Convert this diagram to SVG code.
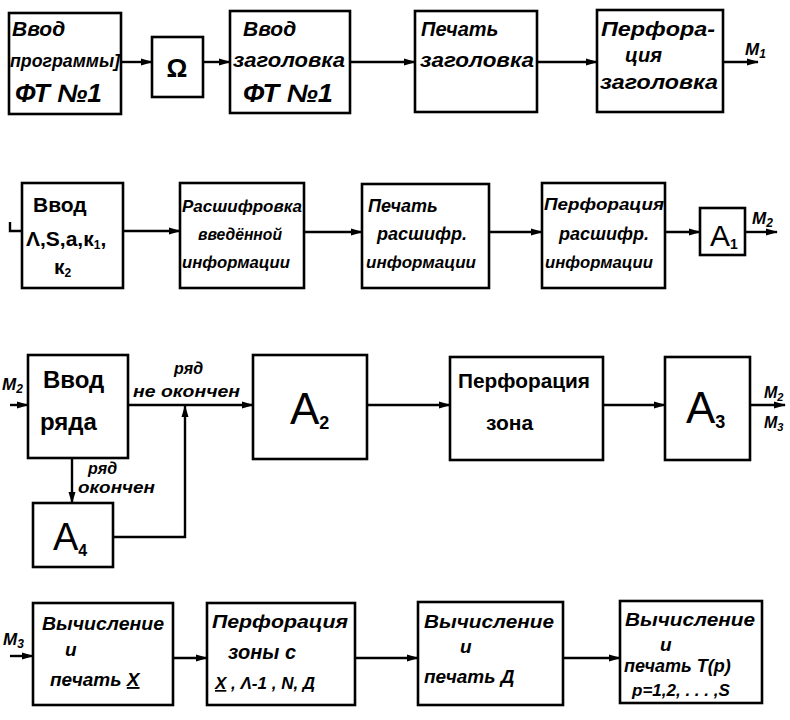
<svg xmlns="http://www.w3.org/2000/svg" width="790" height="720" viewBox="0 0 790 720">
<defs>
<marker id="ar" markerWidth="12" markerHeight="8" refX="11" refY="4" orient="auto" markerUnits="userSpaceOnUse">
<path d="M0,0.5 L12,4 L0,7.5 Z" fill="#000"/>
</marker>
<style>
.b{fill:#fff;stroke:#000;stroke-width:2.6}
.c{fill:none;stroke:#000;stroke-width:2.4}
.t{font-family:"Liberation Sans","DejaVu Sans",sans-serif;fill:#000}
.m{text-anchor:middle}
</style>
</defs>
<rect width="790" height="720" fill="#fff"/>
<g font-style="italic" font-weight="bold" font-size="17">

<g id="connectors">
<line class="c" x1="121" y1="62" x2="152" y2="62" marker-end="url(#ar)"/>
<line class="c" x1="203" y1="62" x2="230" y2="62" marker-end="url(#ar)"/>
<line class="c" x1="350" y1="62" x2="415" y2="62" marker-end="url(#ar)"/>
<line class="c" x1="537" y1="62" x2="597" y2="62" marker-end="url(#ar)"/>
<line class="c" x1="723" y1="62" x2="758" y2="62" marker-end="url(#ar)"/>

<polyline class="c" points="10,222 10,231 22,231"/>
<line class="c" x1="123" y1="231" x2="180" y2="231" marker-end="url(#ar)"/>
<line class="c" x1="304" y1="232" x2="362" y2="232" marker-end="url(#ar)"/>
<line class="c" x1="489" y1="232" x2="542" y2="232" marker-end="url(#ar)"/>
<line class="c" x1="665" y1="232" x2="700" y2="232" marker-end="url(#ar)"/>
<line class="c" x1="745" y1="232" x2="777" y2="232" marker-end="url(#ar)"/>

<line class="c" x1="10" y1="405" x2="28" y2="405" marker-end="url(#ar)"/>
<line class="c" x1="128" y1="405" x2="253" y2="405" marker-end="url(#ar)"/>
<line class="c" x1="72" y1="458" x2="72" y2="503" marker-end="url(#ar)"/>
<polyline class="c" points="113,537 185,537 185,406" marker-end="url(#ar)"/>
<line class="c" x1="367" y1="405" x2="450" y2="405" marker-end="url(#ar)"/>
<line class="c" x1="603" y1="405" x2="665" y2="405" marker-end="url(#ar)"/>
<line class="c" x1="750" y1="405" x2="785" y2="405" marker-end="url(#ar)"/>

<line class="c" x1="10" y1="656" x2="33" y2="656" marker-end="url(#ar)"/>
<line class="c" x1="173" y1="658" x2="207" y2="658" marker-end="url(#ar)"/>
<line class="c" x1="355" y1="658" x2="418" y2="658" marker-end="url(#ar)"/>
<line class="c" x1="563" y1="658" x2="620" y2="658" marker-end="url(#ar)"/>
</g>

<g id="connector-labels">
<text class="t" x="745" y="55">M<tspan font-size="12" dy="3">1</tspan></text>
<text class="t" x="752" y="224">M<tspan font-size="12" dy="3">2</tspan></text>
<text class="t" x="2" y="390">M<tspan font-size="12" dy="3">2</tspan></text>
<text class="t" x="174" y="374" font-size="16">ряд</text>
<text class="t" x="133" y="397" font-size="17" textLength="107" lengthAdjust="spacingAndGlyphs">не окончен</text>
<text class="t" x="88" y="474" font-size="16">ряд</text>
<text class="t" x="78" y="493" font-size="17" textLength="77" lengthAdjust="spacingAndGlyphs">окончен</text>
<text class="t" x="764" y="398" font-size="16">M<tspan font-size="11" dy="3">2</tspan></text>
<text class="t" x="764" y="428" font-size="16">M<tspan font-size="11" dy="3">3</tspan></text>
<text class="t" x="3" y="645">M<tspan font-size="12" dy="3">3</tspan></text>
</g>

<g id="n1">
<rect class="b" x="9" y="13" width="112" height="101"/>
<text class="t" x="12" y="36" font-size="21">Ввод</text>
<text class="t" x="10" y="67" font-size="19" textLength="110" lengthAdjust="spacingAndGlyphs">программы]</text>
<text class="t" x="15" y="102" font-size="25" textLength="87" lengthAdjust="spacingAndGlyphs">ФТ №1</text>
</g>
<g id="n2">
<rect class="b" x="152" y="37" width="51" height="60"/>
<text class="t m" x="177" y="77" font-size="26" font-style="normal">Ω</text>
</g>
<g id="n3">
<rect class="b" x="230" y="11" width="120" height="102"/>
<text class="t" x="243" y="36" font-size="21">Ввод</text>
<text class="t" x="233" y="67" font-size="20" textLength="112" lengthAdjust="spacingAndGlyphs">заголовка</text>
<text class="t" x="243" y="102" font-size="25" textLength="90" lengthAdjust="spacingAndGlyphs">ФТ №1</text>
</g>
<g id="n4">
<rect class="b" x="415" y="11" width="122" height="101"/>
<text class="t" x="421" y="36" font-size="20">Печать</text>
<text class="t" x="420" y="67" font-size="20" textLength="114" lengthAdjust="spacingAndGlyphs">заголовка</text>
</g>
<g id="n5">
<rect class="b" x="597" y="10" width="126" height="102"/>
<text class="t" x="601" y="36" font-size="20" textLength="114" lengthAdjust="spacingAndGlyphs">Перфора-</text>
<text class="t" x="625" y="62" font-size="20">ция</text>
<text class="t" x="600" y="89" font-size="20" textLength="118" lengthAdjust="spacingAndGlyphs">заголовка</text>
</g>

<g id="n6">
<rect class="b" x="22" y="183" width="101" height="105"/>
<text class="t" x="33" y="212" font-size="21" font-style="normal">Ввод</text>
<text class="t" x="26" y="246" font-size="21" font-style="normal">Λ,S,a,к<tspan font-size="12" dy="3">1</tspan><tspan dy="-3">,</tspan></text>
<text class="t" x="54" y="274" font-size="21" font-style="normal">к<tspan font-size="12" dy="3">2</tspan></text>
</g>
<g id="n7">
<rect class="b" x="180" y="183" width="124" height="105"/>
<text class="t" x="182" y="212" font-size="17" textLength="120" lengthAdjust="spacingAndGlyphs">Расшифровка</text>
<text class="t" x="198" y="240" font-size="17" textLength="84" lengthAdjust="spacingAndGlyphs">введённой</text>
<text class="t" x="182" y="268" font-size="17" textLength="108" lengthAdjust="spacingAndGlyphs">информации</text>
</g>
<g id="n8">
<rect class="b" x="362" y="184" width="127" height="104"/>
<text class="t" x="368" y="212" font-size="18">Печать</text>
<text class="t" x="377" y="240" font-size="18">расшифр.</text>
<text class="t" x="366" y="268" font-size="17" textLength="110" lengthAdjust="spacingAndGlyphs">информации</text>
</g>
<g id="n9">
<rect class="b" x="542" y="183" width="123" height="105"/>
<text class="t" x="544" y="210" font-size="17" textLength="120" lengthAdjust="spacingAndGlyphs">Перфорация</text>
<text class="t" x="559" y="240" font-size="18">расшифр.</text>
<text class="t" x="545" y="268" font-size="17" textLength="108" lengthAdjust="spacingAndGlyphs">информации</text>
</g>
<g id="n10">
<rect class="b" x="700" y="208" width="45" height="47"/>
<text class="t" x="710" y="246" font-size="30" font-style="normal" font-weight="normal">A<tspan font-size="14" dy="3" font-weight="bold">1</tspan></text>
</g>

<g id="n11">
<rect class="b" x="28" y="355" width="100" height="103"/>
<text class="t" x="43" y="388" font-size="24" font-style="normal">Ввод</text>
<text class="t" x="40" y="430" font-size="24" font-style="normal">ряда</text>
</g>
<g id="n12">
<rect class="b" x="253" y="355" width="114" height="104"/>
<text class="t" x="290" y="424" font-size="44" font-style="normal" font-weight="normal">A<tspan font-size="18" dy="5" font-weight="bold">2</tspan></text>
</g>
<g id="n13">
<rect class="b" x="450" y="357" width="153" height="103"/>
<text class="t" x="458" y="388" font-size="20" font-style="normal" textLength="132" lengthAdjust="spacingAndGlyphs">Перфорация</text>
<text class="t" x="486" y="430" font-size="21" font-style="normal">зона</text>
</g>
<g id="n14">
<rect class="b" x="665" y="357" width="85" height="103"/>
<text class="t" x="686" y="423" font-size="44" font-style="normal" font-weight="normal">A<tspan font-size="18" dy="5" font-weight="bold">3</tspan></text>
</g>
<g id="n15">
<rect class="b" x="33" y="503" width="80" height="64"/>
<text class="t" x="53" y="550" font-size="38" font-style="normal" font-weight="normal">A<tspan font-size="16" dy="6" font-weight="bold">4</tspan></text>
</g>

<g id="n16">
<rect class="b" x="33" y="603" width="140" height="102"/>
<text class="t" x="42" y="630" font-size="18" textLength="122" lengthAdjust="spacingAndGlyphs">Вычисление</text>
<text class="t" x="65" y="656" font-size="19">и</text>
<text class="t" x="50" y="686" font-size="19">печать <tspan text-decoration="underline">X</tspan></text>
</g>
<g id="n17">
<rect class="b" x="207" y="603" width="148" height="102"/>
<text class="t" x="212" y="628" font-size="18" textLength="136" lengthAdjust="spacingAndGlyphs">Перфорация</text>
<text class="t" x="228" y="659" font-size="20">зоны с</text>
<text class="t" x="215" y="689" font-size="17"><tspan text-decoration="underline">X</tspan> , Λ-1 , N, Д</text>
</g>
<g id="n18">
<rect class="b" x="418" y="602" width="145" height="103"/>
<text class="t" x="424" y="628" font-size="18" textLength="130" lengthAdjust="spacingAndGlyphs">Вычисление</text>
<text class="t" x="460" y="653" font-size="19">и</text>
<text class="t" x="424" y="683" font-size="19">печать Д</text>
</g>
<g id="n19">
<rect class="b" x="620" y="601" width="142" height="102"/>
<text class="t" x="625" y="626" font-size="18" textLength="130" lengthAdjust="spacingAndGlyphs">Вычисление</text>
<text class="t" x="660" y="651" font-size="19">и</text>
<text class="t" x="624" y="672" font-size="18">печать T(p)</text>
<text class="t" x="632" y="696" font-size="17">p=1,2, . . . ,S</text>
</g>
</g>
</svg>
